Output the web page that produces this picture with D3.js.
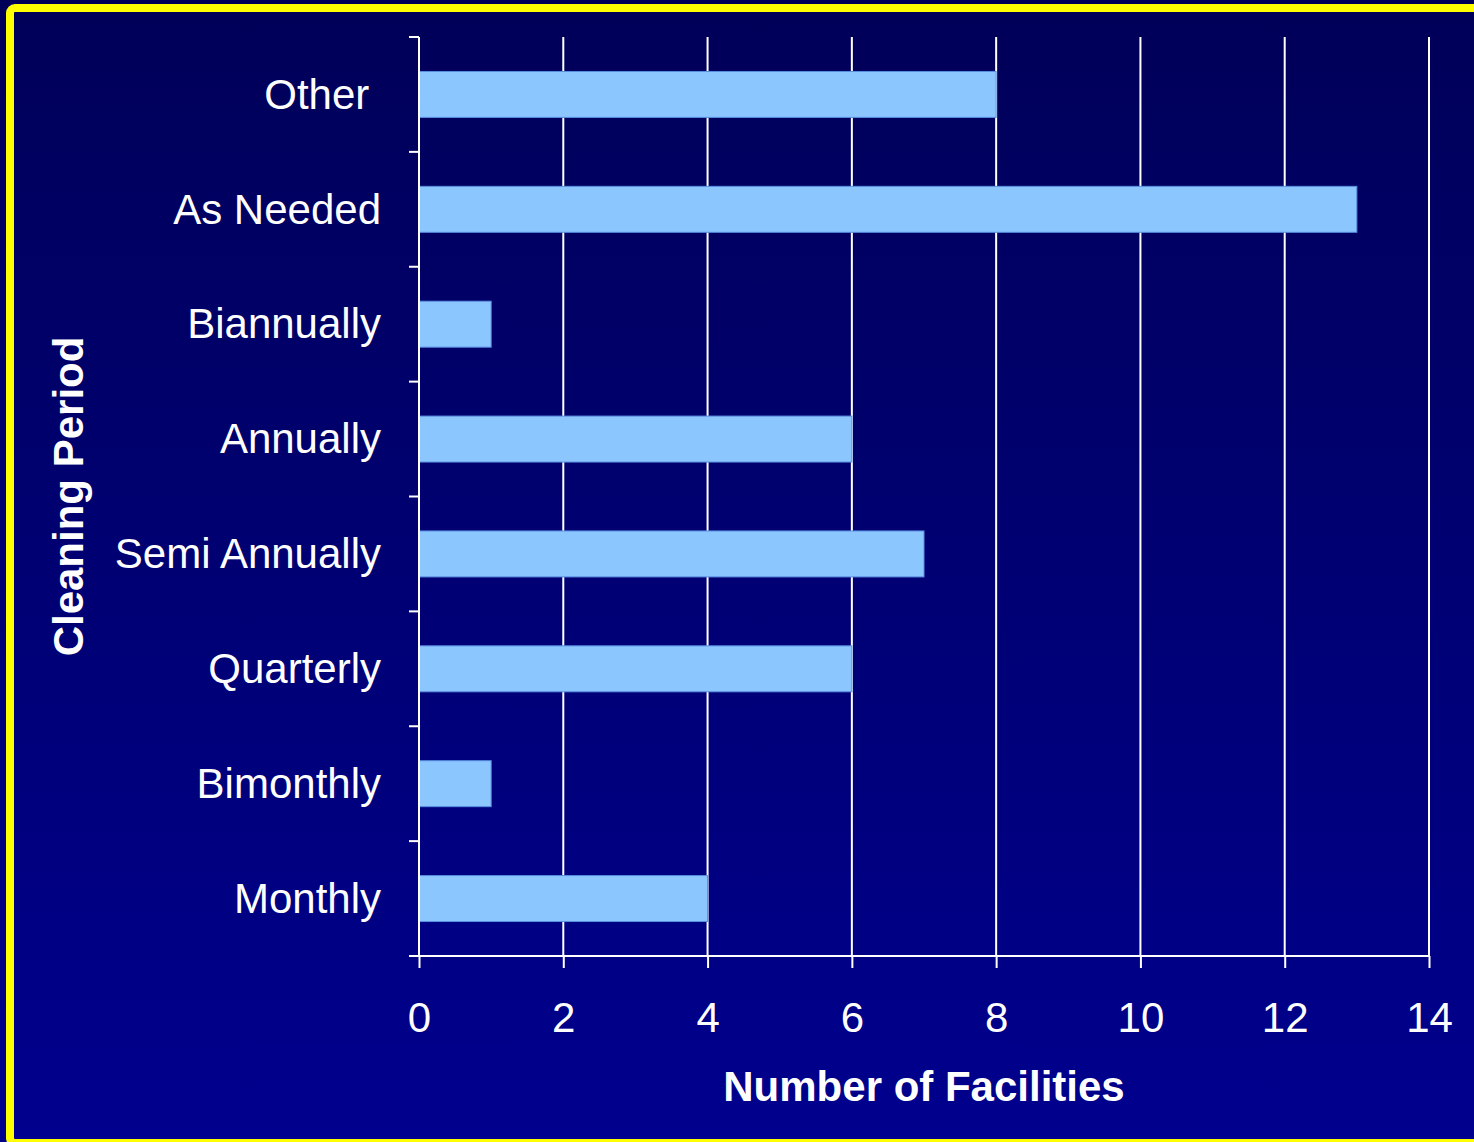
<!DOCTYPE html>
<html>
<head>
<meta charset="utf-8">
<script src="https://cdn.jsdelivr.net/npm/d3@7"></script>
<style>
  html, body { margin: 0; padding: 0; background: #000070; }
  svg { display: block; font-family: "Liberation Sans", Arial, sans-serif; }
</style>
</head>
<body>
<svg width="1474" height="1142"></svg>
<script>
const categories = ['Other ', 'As Needed', 'Biannually', 'Annually', 'Semi Annually', 'Quarterly', 'Bimonthly', 'Monthly'];
const facilities = [8, 13, 1, 6, 7, 6, 1, 4];
const xTicks = [0, 2, 4, 6, 8, 10, 12, 14];

const svg = d3.select('svg'),
    width = +svg.attr('width'),
    height = +svg.attr('height');

const plot = { left: 419, right: 1429, top: 37, bottom: 956 };

// background gradient, dark at top, brighter navy at bottom
const grad = svg.append('defs').append('linearGradient')
    .attr('id', 'bg')
    .attr('x1', 0).attr('y1', 0).attr('x2', 0).attr('y2', 1);
grad.append('stop').attr('offset', '0%').attr('stop-color', '#000058');
grad.append('stop').attr('offset', '100%').attr('stop-color', '#00008e');

svg.append('rect')
    .attr('width', width)
    .attr('height', height)
    .attr('fill', 'url(#bg)');

// yellow frame (right and bottom run off the page)
svg.append('rect')
    .attr('x', 10).attr('y', 8)
    .attr('width', width + 20).attr('height', 1135)
    .attr('rx', 5)
    .attr('fill', 'none')
    .attr('stroke', '#ffff00')
    .attr('stroke-width', 8);

const x = d3.scaleLinear()
    .domain([0, 14])
    .range([plot.left, plot.right]);

const y = d3.scaleBand()
    .domain(categories)
    .range([plot.top, plot.bottom])
    .paddingInner(0.6)
    .paddingOuter(0.3);

// vertical gridlines
svg.append('g')
  .selectAll('line')
    .data(xTicks)
    .enter().append('line')
      .attr('x1', (d) => x(d)).attr('x2', (d) => x(d))
      .attr('y1', plot.top).attr('y2', plot.bottom)
      .attr('stroke', '#ffffff')
      .attr('stroke-width', 2);

// bars
svg.append('g')
  .selectAll('rect')
    .data(facilities)
    .enter().append('rect')
      .attr('x', x(0))
      .attr('y', (d, i) => y(categories[i]))
      .attr('width', (d) => x(d) - x(0))
      .attr('height', y.bandwidth())
      .attr('fill', '#8cc6ff')
      .attr('stroke', '#5a8ee0')
      .attr('stroke-width', 1);

// x axis
const xAxis = svg.append('g')
    .attr('transform', `translate(0,${plot.bottom})`)
    .call(d3.axisBottom(x).tickValues(xTicks).tickSize(12).tickSizeOuter(0).tickPadding(34));
xAxis.select('.domain').remove();
xAxis.selectAll('line').attr('stroke', '#ffffff').attr('stroke-width', 2);
xAxis.selectAll('text')
    .attr('fill', '#ffffff')
    .attr('font-size', 42)
    .attr('font-family', '"Liberation Sans", Arial, sans-serif');

svg.append('line')
    .attr('x1', x(0) - 10).attr('x2', x(14))
    .attr('y1', plot.bottom).attr('y2', plot.bottom)
    .attr('stroke', '#ffffff').attr('stroke-width', 2);

// y axis: line plus ticks at band boundaries
svg.append('line')
    .attr('x1', x(0)).attr('x2', x(0))
    .attr('y1', plot.top).attr('y2', plot.bottom)
    .attr('stroke', '#ffffff').attr('stroke-width', 2);

const boundaries = d3.range(categories.length + 1).map((i) => y.range()[0] + i * y.step());
svg.append('g')
  .selectAll('line')
    .data(boundaries)
    .enter().append('line')
      .attr('x1', x(0) - 10).attr('x2', x(0))
      .attr('y1', (d) => d).attr('y2', (d) => d)
      .attr('stroke', '#ffffff').attr('stroke-width', 2);

svg.append('g')
  .selectAll('text')
    .data(categories)
    .enter().append('text')
      .attr('x', x(0) - 38)
      .attr('y', (d) => y(d) + y.bandwidth() / 2)
      .attr('dy', '0.34em')
      .attr('text-anchor', 'end')
      .attr('fill', '#ffffff')
      .attr('font-size', 42)
      .style('white-space', 'pre')
      .text((d) => d);

// axis titles
svg.append('text')
    .attr('x', (plot.left + plot.right) / 2)
    .attr('y', 1101)
    .attr('text-anchor', 'middle')
    .attr('fill', '#ffffff')
    .attr('font-size', 42)
    .attr('font-weight', 'bold')
    .text('Number of Facilities');

svg.append('text')
    .attr('transform', `translate(83,${(plot.top + plot.bottom) / 2}) rotate(-90)`)
    .attr('text-anchor', 'middle')
    .attr('fill', '#ffffff')
    .attr('font-size', 42)
    .attr('font-weight', 'bold')
    .text('Cleaning Period');
</script>
</body>
</html>
